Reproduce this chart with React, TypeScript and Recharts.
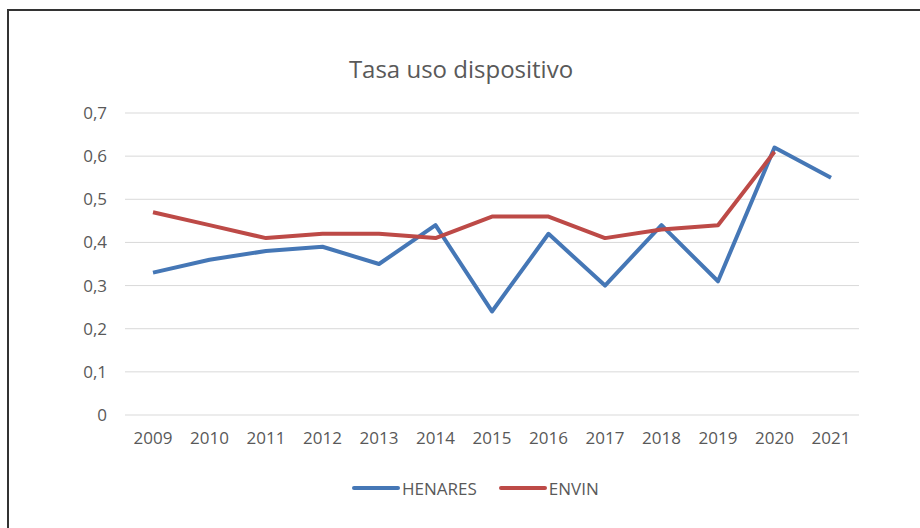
import React from "react";
import { LineChart, Line, XAxis, YAxis, CartesianGrid } from "recharts";

const years = ["2009", "2010", "2011", "2012", "2013", "2014", "2015", "2016", "2017", "2018", "2019", "2020", "2021"];
const henares = [0.33, 0.36, 0.38, 0.39, 0.35, 0.44, 0.24, 0.42, 0.3, 0.44, 0.31, 0.62, 0.55];
const envin: (number | null)[] = [0.47, 0.44, 0.41, 0.42, 0.42, 0.41, 0.46, 0.46, 0.41, 0.43, 0.44, 0.61, null];
const yTicks = [0, 0.1, 0.2, 0.3, 0.4, 0.5, 0.6, 0.7];
const seriesNames = ["HENARES", "ENVIN"];

const data = years.map((y, i) => ({ year: y, HENARES: henares[i], ENVIN: envin[i] }));

const FONT = "'Open Sans', sans-serif";
const TEXT = "#595959";
const BLUE = "#4577b6";
const RED = "#bd4a47";
const COLORS = [BLUE, RED];

const fmt = (v: number) => (v === 0 ? "0" : v.toFixed(1).replace(".", ","));

export default function App() {
  return (
    <div style={{ position: "absolute", left: 0, top: 0, width: 920, height: 528, background: "#fff", overflow: "hidden" }}>
      <div style={{ position: "absolute", left: 7, top: 9, width: 930, height: 540, borderLeft: "2px solid #333", borderTop: "2px solid #333" }} />
      <div style={{ position: "absolute", left: 0, top: 52, width: 922, textAlign: "center", fontFamily: FONT, fontSize: 24, color: TEXT, lineHeight: "34px" }}>
        Tasa uso dispositivo
      </div>
      <div style={{ position: "absolute", left: 0, top: 0 }}>
        <LineChart width={920} height={528} data={data} margin={{ top: 113, right: 61, bottom: 0, left: 0 }}>
          <CartesianGrid vertical={false} stroke="#d9d9d9" strokeWidth={1} />
          <XAxis
            dataKey="year"
            axisLine={false}
            tickLine={false}
            tickSize={0}
            tickMargin={17}
            height={113}
            padding={{ left: 28, right: 28 }}
            interval={0}
            tick={{ fill: TEXT, fontSize: 17, fontFamily: FONT }}
          />
          <YAxis
            domain={[0, 0.7]}
            ticks={yTicks}
            width={125}
            axisLine={false}
            tickLine={false}
            tickSize={0}
            tickMargin={18}
            tickFormatter={fmt}
            tick={{ fill: TEXT, fontSize: 17, fontFamily: FONT }}
          />
          <Line dataKey="HENARES" stroke={BLUE} strokeWidth={4} dot={false} isAnimationActive={false} strokeLinejoin="round" />
          <Line dataKey="ENVIN" stroke={RED} strokeWidth={4} dot={false} isAnimationActive={false} strokeLinejoin="round" />
        </LineChart>
      </div>
      <div style={{ position: "absolute", left: 352, top: 476, height: 24, display: "flex", alignItems: "center", fontFamily: FONT, fontSize: 17, color: TEXT }}>
        {seriesNames.map((n, i) => (
          <div key={n} style={{ display: "flex", alignItems: "center", marginLeft: i ? 22 : 0 }}>
            <svg width={48} height={10} style={{ display: "block" }}>
              <line x1={2} y1={5} x2={46} y2={5} stroke={COLORS[i]} strokeWidth={4} strokeLinecap="round" />
            </svg>
            <span style={{ marginLeft: 2 }}>{n}</span>
          </div>
        ))}
      </div>
    </div>
  );
}
